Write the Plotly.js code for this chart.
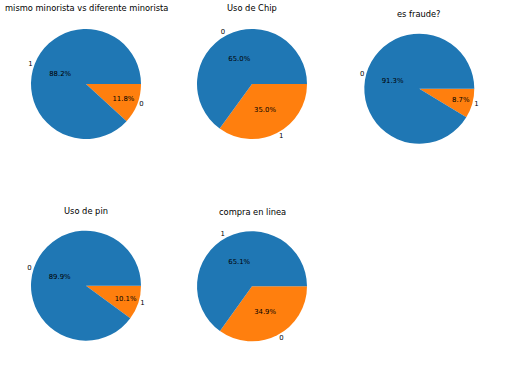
<!DOCTYPE html>
<html>
<head>
<meta charset="utf-8">
<script src="https://cdn.plot.ly/plotly-3.0.1.min.js"></script>
<style>html,body{margin:0;padding:0;background:#fff;}#chart{width:507px;height:365px;}</style>
</head>
<body>
<div id="chart"></div>
<script>
// ---- data ----
const titles = ["mismo minorista vs diferente minorista", "Uso de Chip", "es fraude?", "Uso de pin", "compra en linea"];
const labels1 = ["1", "0"];
const values1 = [88.2, 11.8];
const labels2 = ["0", "1"];
const values2 = [65.0, 35.0];
const labels3 = ["0", "1"];
const values3 = [91.3, 8.7];
const labels4 = ["0", "1"];
const values4 = [89.9, 10.1];
const labels5 = ["1", "0"];
const values5 = [65.1, 34.9];
const sliceColors = ["#1f77b4", "#ff7f0e"];

// ---- layout geometry (pixels) ----
const W = 507, H = 365, R = 55;
const centers = [[86, 84], [252, 84], [419.3, 88.7], [86, 285.7], [252, 286.3]];
const titleY = [8.5, 8.5, 14, 211, 212];

const allLabels = [labels1, labels2, labels3, labels4, labels5];
const allValues = [values1, values2, values3, values4, values5];
const font = "DejaVu Sans, sans-serif";
const rev = a => a.slice().reverse();

const traces = [];
const annotations = [];
allValues.forEach((vals, i) => {
  const [cx, cy] = centers[i];
  const domain = {
    x: [(cx - R) / W, (cx + R) / W],
    y: [1 - (cy + R) / H, 1 - (cy - R) / H]
  };
  // matplotlib draws the first wedge counterclockwise from 3 o'clock;
  // the same picture is the reversed order drawn clockwise from 3 o'clock.
  const common = {
    type: "pie", values: rev(vals), labels: rev(allLabels[i]), sort: false,
    direction: "clockwise", rotation: 90, domain: domain,
    showlegend: false, hoverinfo: "label+percent"
  };
  traces.push(Object.assign({}, common, {
    marker: { colors: rev(sliceColors), line: { width: 0 } },
    textposition: "inside", texttemplate: "%{percent:.1%}",
    insidetextorientation: "horizontal",
    insidetextfont: { family: font, size: 6.9, color: "#000" }
  }));
  traces.push(Object.assign({}, common, {
    marker: { colors: ["rgba(0,0,0,0)", "rgba(0,0,0,0)"], line: { width: 0 } },
    textposition: "outside", textinfo: "label",
    outsidetextfont: { family: font, size: 6.9, color: "#000" }
  }));
  annotations.push({
    text: titles[i], xref: "paper", yref: "paper",
    x: cx / W, y: 1 - titleY[i] / H, xanchor: "center", yanchor: "middle",
    showarrow: false, font: { family: font, size: 8.3, color: "#000" }
  });
});

Plotly.newPlot("chart", traces, {
  width: W, height: H, margin: { l: 0, r: 0, t: 0, b: 0 },
  paper_bgcolor: "#fff", annotations: annotations
}, { staticPlot: true });
</script>
</body>
</html>
